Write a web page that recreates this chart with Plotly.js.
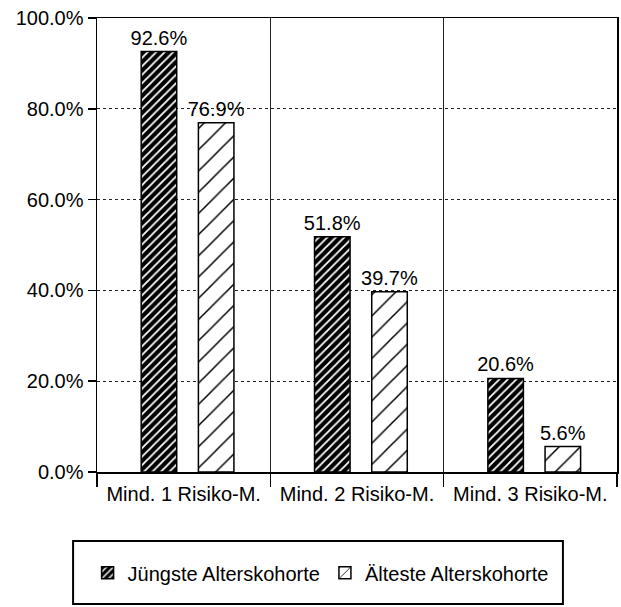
<!DOCTYPE html>
<html>
<head>
<meta charset="utf-8">
<script src="https://cdn.plot.ly/plotly-3.0.1.min.js"></script>
<style>html,body{margin:0;padding:0;background:#fff;}#chart{width:621px;height:607px;}</style>
</head>
<body>
<div id="chart"></div>
<script>
const categories = ["Mind. 1 Risiko-M.", "Mind. 2 Risiko-M.", "Mind. 3 Risiko-M."];
const seriesNames = ["Jüngste Alterskohorte", "Älteste Alterskohorte"];
const youngest = [92.6, 51.8, 20.6];
const oldest = [76.9, 39.7, 5.6];
const yTicks = [0, 20, 40, 60, 80, 100];
const yTickLabels = yTicks.map(v => v.toFixed(1) + "%");

const FONT = "Liberation Sans, Arial, sans-serif";
const FS = 20;

const traces = [
  {
    type: "bar", name: seriesNames[0], x: categories, y: youngest,
    width: 0.205, offset: -0.245,
    marker: {color: "#000", line: {color: "#000", width: 1.5},
      pattern: {shape: "/", bgcolor: "#000", fgcolor: "#fff", size: 6, solidity: 0.3, fillmode: "replace"}},
    texttemplate: "%{y:.1f}%", textposition: "outside", cliponaxis: false, constraintext: "none",
    textfont: {family: FONT, size: FS, color: "#000"}
  },
  {
    type: "bar", name: seriesNames[1], x: categories, y: oldest,
    width: 0.205, offset: 0.085,
    marker: {color: "#fff", line: {color: "#000", width: 1.5},
      pattern: {shape: "/", bgcolor: "#fff", fgcolor: "#000", size: 15, solidity: 0.1, fillmode: "replace"}},
    texttemplate: "%{y:.1f}%", textposition: "outside", cliponaxis: false, constraintext: "none",
    textfont: {family: FONT, size: FS, color: "#000"}
  }
];

const layout = {
  width: 621, height: 607,
  margin: {l: 97, r: 4, t: 18, b: 135, pad: 0},
  paper_bgcolor: "#fff", plot_bgcolor: "#fff",
  font: {family: FONT, size: FS, color: "#000"},
  barmode: "group",
  showlegend: true,
  xaxis: {
    type: "category", tickson: "boundaries", ticks: "outside", ticklen: 13, tickwidth: 1.5, tickcolor: "#000",
    ticklabelstandoff: 3,
    showgrid: true, gridcolor: "#222", gridwidth: 1,
    showline: true, linecolor: "#000", linewidth: 1.5, mirror: true,
    tickfont: {family: FONT, size: FS, color: "#000"}, fixedrange: true
  },
  yaxis: {
    range: [0, 100], tickmode: "array", tickvals: yTicks, ticktext: yTickLabels,
    ticks: "outside", ticklen: 8, tickwidth: 1.5, tickcolor: "#000",
    showgrid: true, gridcolor: "#222", gridwidth: 1, griddash: "dot",
    showline: true, linecolor: "#000", linewidth: 1.5, mirror: true, zeroline: false,
    tickfont: {family: FONT, size: FS, color: "#000"}, fixedrange: true
  },
  legend: {
    orientation: "h", x: 0.43, xanchor: "center", y: -0.222, yanchor: "middle",
    bgcolor: "rgba(0,0,0,0)", borderwidth: 0, itemwidth: 30,
    font: {family: FONT, size: FS, color: "#000"}
  },
  shapes: [{
    type: "rect", xref: "paper", yref: "paper",
    x0: -0.046, x1: 0.896, y0: -0.152, y1: -0.291,
    line: {color: "#000", width: 2}, fillcolor: "rgba(0,0,0,0)"
  }]
};

Plotly.newPlot("chart", traces, layout, {staticPlot: true, displayModeBar: false});
</script>
</body>
</html>
